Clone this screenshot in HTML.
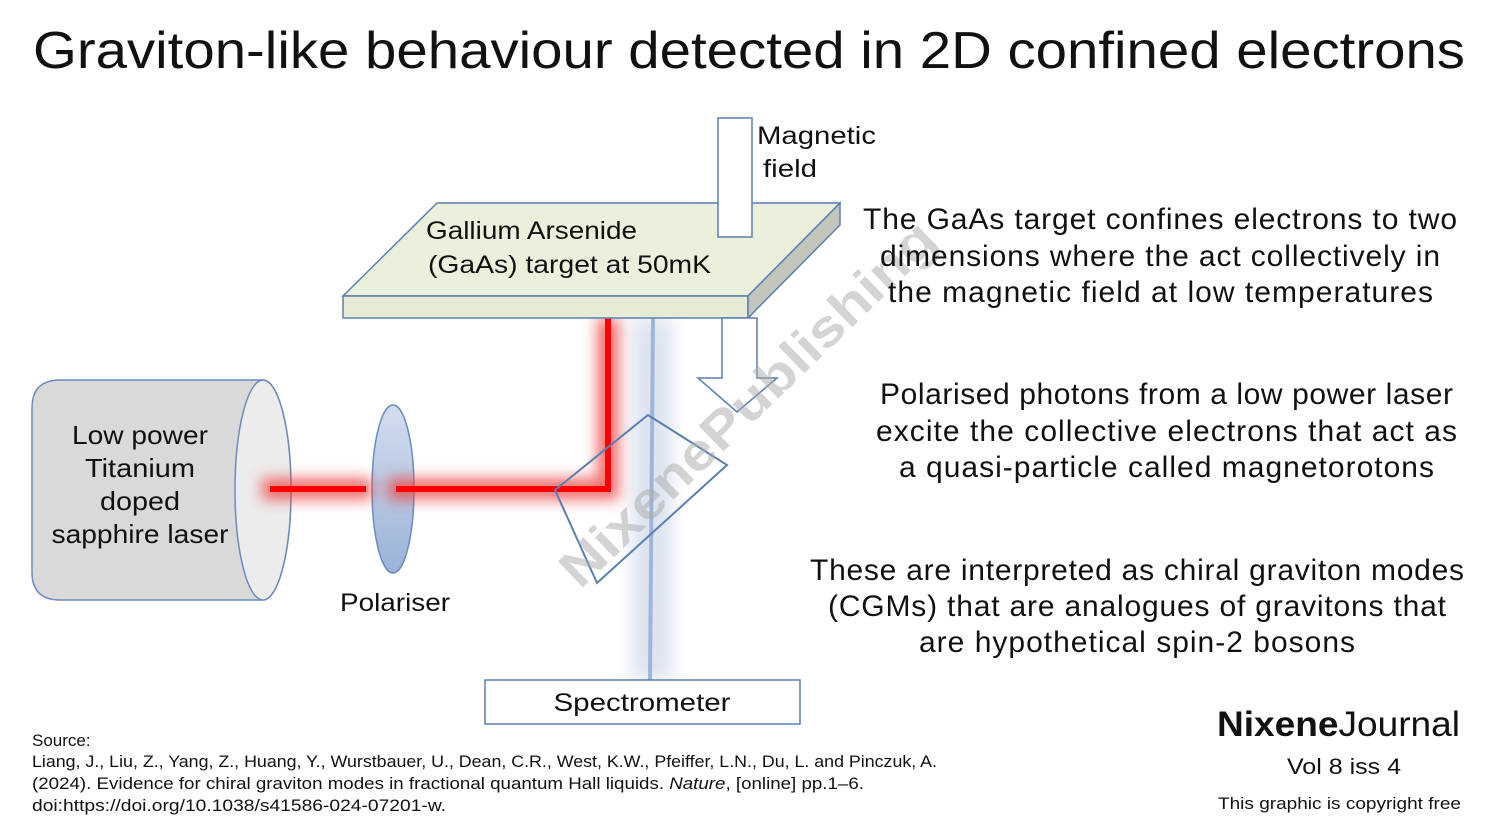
<!DOCTYPE html>
<html><head><meta charset="utf-8"><style>
html,body{margin:0;padding:0;background:#fff;}
svg{display:block;font-family:"Liberation Sans","DejaVu Sans",sans-serif;}
</style></head><body>
<svg width="1500" height="828" viewBox="0 0 1500 828" xmlns="http://www.w3.org/2000/svg">
<defs>
<filter id="glow" x="-50%" y="-50%" width="200%" height="200%"><feGaussianBlur stdDeviation="7"/></filter>
<filter id="glow2" x="-50%" y="-50%" width="200%" height="200%"><feGaussianBlur stdDeviation="9"/></filter>
<linearGradient id="pol" x1="0" y1="0" x2="0" y2="1"><stop offset="0" stop-color="#d3deee"/><stop offset="1" stop-color="#9bb3d8"/></linearGradient>
</defs>
<text x="33" y="68" font-size="52" fill="#111" textLength="1432" lengthAdjust="spacingAndGlyphs">Graviton-like behaviour detected in 2D confined electrons</text>

<!-- blue beam -->
<rect x="632" y="318" width="40" height="362" fill="#dbe3ef" filter="url(#glow2)"/>
<line x1="653" y1="318" x2="650" y2="680" stroke="#9cb6da" stroke-width="4"/>

<!-- laser -->
<path d="M60,380 H263 A28,110 0 0 1 263,600 H60 Q32,600 32,572 V408 Q32,380 60,380 Z" fill="#d9d9d9" stroke="#6a8bbd" stroke-width="1.5"/>
<ellipse cx="263" cy="490" rx="28" ry="110" fill="#ececec" stroke="#6a8bbd" stroke-width="1.5"/>
<g font-size="26" fill="#111" text-anchor="middle">
<text x="140" y="444" textLength="136" lengthAdjust="spacingAndGlyphs">Low power</text>
<text x="140" y="477" textLength="110" lengthAdjust="spacingAndGlyphs">Titanium</text>
<text x="140" y="510" textLength="80" lengthAdjust="spacingAndGlyphs">doped</text>
<text x="140" y="543" textLength="177" lengthAdjust="spacingAndGlyphs">sapphire laser</text>
</g>

<!-- polariser -->
<ellipse cx="393" cy="489" rx="21" ry="84" fill="url(#pol)" stroke="#6a8bbd" stroke-width="1.5"/>
<text x="395" y="611" font-size="25" fill="#111" text-anchor="middle" textLength="110" lengthAdjust="spacingAndGlyphs">Polariser</text>

<!-- red beam glow -->
<g filter="url(#glow)" opacity="0.75">
<line x1="262" y1="489" x2="372" y2="489" stroke="#f04040" stroke-width="22"/>
<polyline points="388,489 608,489 608,318" fill="none" stroke="#f04040" stroke-width="22"/>
</g>
<line x1="270" y1="489" x2="366" y2="489" stroke="#ff0000" stroke-width="6"/>
<polyline points="396,489 608,489 608,318" fill="none" stroke="#ff0000" stroke-width="6"/>

<!-- beam splitter -->
<polygon points="555,490 648,415 727,465 597,583" fill="none" stroke="#5a7fb0" stroke-width="2"/>

<!-- slab -->
<polygon points="343,296 437,203 840,203 748,296" fill="#ebf0dd" stroke="#5a7fb0" stroke-width="1.5"/>
<rect x="343" y="296" width="405" height="22" fill="#e6ebd6" stroke="#5a7fb0" stroke-width="1.5"/>
<polygon points="748,296 840,203 840,225 748,318" fill="#c2c6ba" stroke="#5a7fb0" stroke-width="1.5"/>
<g font-size="25" fill="#111">
<text x="426" y="239" textLength="211" lengthAdjust="spacingAndGlyphs">Gallium Arsenide</text>
<text x="428" y="273" textLength="283" lengthAdjust="spacingAndGlyphs">(GaAs) target at 50mK</text>
</g>

<!-- magnetic field -->
<rect x="718" y="118" width="34" height="119" fill="#fff" stroke="#5a7fb0" stroke-width="1.5"/>
<g font-size="25" fill="#111"><text x="757" y="144" textLength="119" lengthAdjust="spacingAndGlyphs">Magnetic</text><text x="763" y="177" textLength="54" lengthAdjust="spacingAndGlyphs">field</text></g>
<polygon points="722,318 757,318 757,378 777,378 737,412 698,378 722,378" fill="#fff" stroke="#5a7fb0" stroke-width="1.5"/>

<!-- watermark -->
<text x="0" y="0" transform="translate(580,590) rotate(-44)" font-size="52" font-weight="bold" fill="#aaa" opacity="0.5" textLength="500" lengthAdjust="spacingAndGlyphs">NixenePublishing</text>

<!-- spectrometer -->
<rect x="485" y="680" width="315" height="44" fill="#fff" stroke="#5a7fb0" stroke-width="1.5"/>
<text x="642" y="711" font-size="25" fill="#111" text-anchor="middle" textLength="177" lengthAdjust="spacingAndGlyphs">Spectrometer</text>

<!-- right text -->
<g font-size="30" fill="#111" lengthAdjust="spacingAndGlyphs">
<text x="863" y="229" textLength="594">The GaAs target confines electrons to two</text>
<text x="880" y="266" textLength="560">dimensions where the act collectively in</text>
<text x="888" y="302" textLength="545">the magnetic field at low temperatures</text>
<text x="880" y="404" textLength="573">Polarised photons from a low power laser</text>
<text x="876" y="441" textLength="581">excite the collective electrons that act as</text>
<text x="899" y="477" textLength="535">a quasi-particle called magnetorotons</text>
<text x="810" y="580" textLength="654">These are interpreted as chiral graviton modes</text>
<text x="828" y="616" textLength="618">(CGMs) that are analogues of gravitons that</text>
<text x="919" y="652" textLength="436">are hypothetical spin-2 bosons</text>
</g>

<!-- journal -->
<text x="1217" y="736" font-size="35" fill="#111" textLength="243" lengthAdjust="spacingAndGlyphs"><tspan font-weight="bold">Nixene</tspan>Journal</text>
<text x="1287" y="774" font-size="22" fill="#111" textLength="114" lengthAdjust="spacingAndGlyphs">Vol 8  iss 4</text>
<text x="1218" y="809" font-size="17" fill="#111" textLength="243" lengthAdjust="spacingAndGlyphs">This graphic is copyright free</text>

<!-- source -->
<g font-size="17" fill="#111">
<text x="32" y="746">Source:</text>
<text x="32" y="767" textLength="905" lengthAdjust="spacingAndGlyphs">Liang, J., Liu, Z., Yang, Z., Huang, Y., Wurstbauer, U., Dean, C.R., West, K.W., Pfeiffer, L.N., Du, L. and Pinczuk, A.</text>
<text x="32" y="789" textLength="832" lengthAdjust="spacingAndGlyphs">(2024). Evidence for chiral graviton modes in fractional quantum Hall liquids. <tspan font-style="italic">Nature</tspan>, [online] pp.1–6.</text>
<text x="32" y="811" textLength="414" lengthAdjust="spacingAndGlyphs">doi:https://doi.org/10.1038/s41586-024-07201-w.</text>
</g>
</svg>
</body></html>
